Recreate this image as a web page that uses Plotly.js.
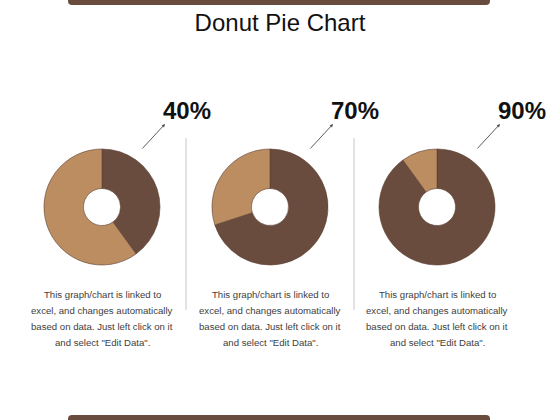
<!DOCTYPE html>
<html>
<head>
<meta charset="utf-8">
<script src="https://cdn.plot.ly/plotly-3.0.1.min.js"></script>
<style>
  html, body { margin: 0; padding: 0; background: #ffffff; }
  #chart { width: 560px; height: 420px; }
</style>
</head>
<body>
<div id="chart"></div>
<script>
// data
const sliceLabels = ["Value", "Remainder"];
const shares = [40, 70, 90];
const captionLines = [
  "This graph/chart is linked to",
  "excel, and changes automatically",
  "based on data. Just left click on it",
  "and select \"Edit Data\"."
];

const DARK = "#6a4c3f";
const LIGHT = "#bc8d60";
const W = 560, H = 420;

const centersX = [102, 270, 437];
const centerY = 207;
const radius = 58;

const px = x => x / W;
const py = y => 1 - y / H;

const traces = shares.map((v, i) => ({
  type: "pie",
  labels: sliceLabels,
  values: [v, 100 - v],
  hole: 0.32,
  sort: false,
  direction: "clockwise",
  rotation: 0,
  textinfo: "none",
  hoverinfo: "label+percent",
  marker: {
    colors: [DARK, LIGHT],
    line: { color: "#5a3e33", width: 0.6 }
  },
  domain: {
    x: [px(centersX[i] - radius), px(centersX[i] + radius)],
    y: [py(centerY + radius), py(centerY - radius)]
  }
}));

const annotations = [];
shares.forEach((v, i) => {
  const cx = centersX[i];
  // arrow
  annotations.push({
    xref: "paper", yref: "paper",
    x: px(cx + 63), y: py(124),
    ax: -24, ay: 26,
    text: "", showarrow: true,
    arrowhead: 2, arrowsize: 0.7, arrowwidth: 0.9, arrowcolor: "#4a4a4a"
  });
  // percent label
  annotations.push({
    xref: "paper", yref: "paper",
    x: px(cx + 85), y: py(111),
    xanchor: "center", yanchor: "middle",
    text: "<b>" + v + "%</b>", showarrow: false,
    font: { family: "Liberation Sans, Arial, sans-serif", size: 24, color: "#111111" }
  });
  // caption lines
  captionLines.forEach((line, j) => {
    annotations.push({
      xref: "paper", yref: "paper",
      x: px(cx), y: py(294 + j * 16.3),
      xanchor: "center", yanchor: "middle",
      text: line, showarrow: false,
      font: { family: "Liberation Sans, Arial, sans-serif", size: 9.6, color: "#404040" }
    });
  });
});

const shapes = [
  // top bar
  {
    type: "path", xref: "paper", yref: "paper",
    path: `M ${px(68)} ${py(-2)} L ${px(490)} ${py(-2)} L ${px(490)} ${py(1)} Q ${px(490)} ${py(5)} ${px(486)} ${py(5)} L ${px(72)} ${py(5)} Q ${px(68)} ${py(5)} ${px(68)} ${py(1)} Z`,
    fillcolor: DARK, line: { width: 0 }
  },
  // bottom bar
  {
    type: "path", xref: "paper", yref: "paper",
    path: `M ${px(68)} ${py(422)} L ${px(68)} ${py(419)} Q ${px(68)} ${py(415)} ${px(72)} ${py(415)} L ${px(486)} ${py(415)} Q ${px(490)} ${py(415)} ${px(490)} ${py(419)} L ${px(490)} ${py(422)} Z`,
    fillcolor: DARK, line: { width: 0 }
  },
  // separators
  {
    type: "line", xref: "paper", yref: "paper",
    x0: px(186), x1: px(186), y0: py(138), y1: py(310),
    line: { color: "#c8c8c8", width: 1 }
  },
  {
    type: "line", xref: "paper", yref: "paper",
    x0: px(354), x1: px(354), y0: py(138), y1: py(310),
    line: { color: "#c8c8c8", width: 1 }
  }
];

const layout = {
  width: W,
  height: H,
  margin: { l: 0, r: 0, t: 0, b: 0, pad: 0 },
  paper_bgcolor: "#ffffff",
  plot_bgcolor: "#ffffff",
  showlegend: false,
  title: {
    text: "Donut Pie Chart",
    x: 0.5, xanchor: "center",
    y: py(23), yanchor: "middle",
    xref: "paper", yref: "container",
    font: { family: "Liberation Sans, Arial, sans-serif", size: 24, color: "#111111" }
  },
  annotations: annotations,
  shapes: shapes
};

Plotly.newPlot("chart", traces, layout, { displayModeBar: false, responsive: false });
</script>
</body>
</html>
